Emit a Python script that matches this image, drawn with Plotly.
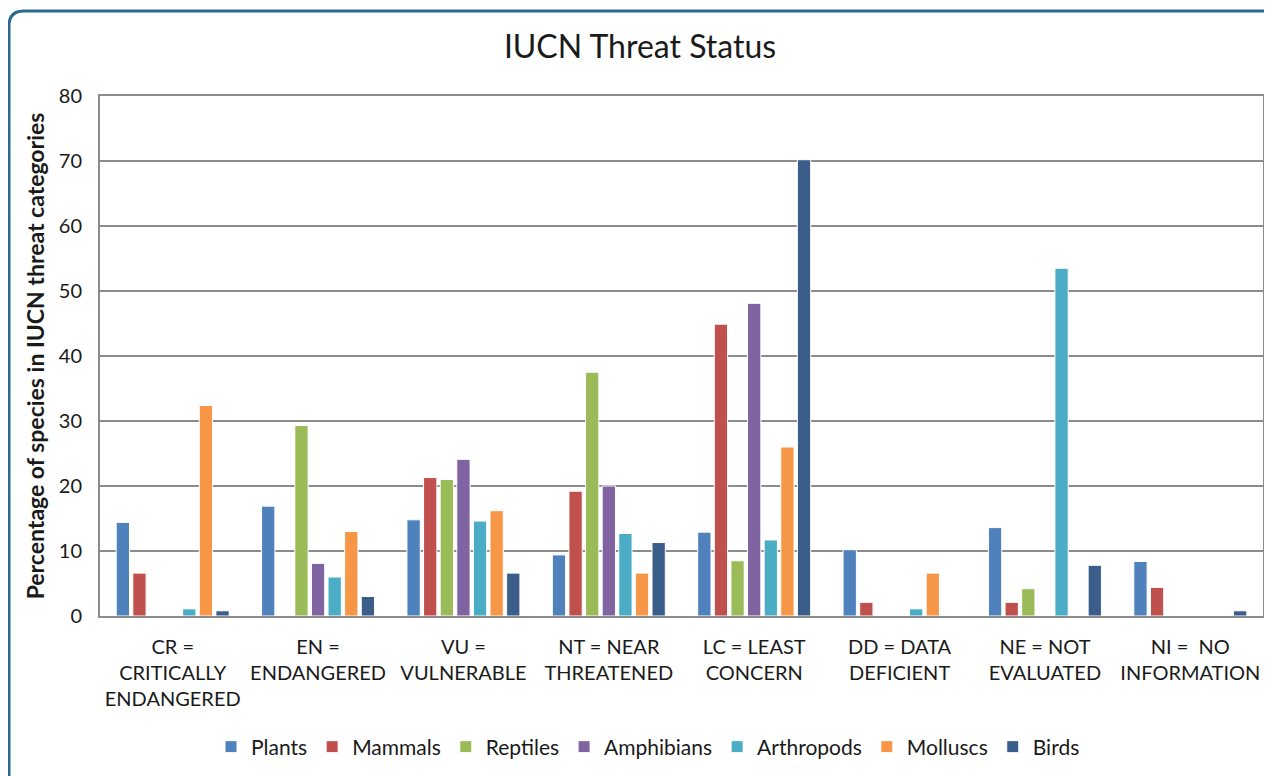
import plotly.graph_objects as go

categories = [
    "CR =<br>CRITICALLY<br>ENDANGERED",
    "EN =<br>ENDANGERED",
    "VU =<br>VULNERABLE",
    "NT = NEAR<br>THREATENED",
    "LC = LEAST<br>CONCERN",
    "DD = DATA<br>DEFICIENT",
    "NE = NOT<br>EVALUATED",
    "NI =  NO<br>INFORMATION",
]

plants = [14.4, 16.9, 14.8, 9.4, 12.9, 10.2, 13.6, 8.4]
mammals = [6.6, 0, 21.3, 19.2, 44.9, 2.1, 2.1, 4.4]
reptiles = [0, 29.3, 21.0, 37.5, 8.5, 0, 4.2, 0]
amphibians = [0, 8.1, 24.1, 20.0, 48.1, 0, 0, 0]
arthropods = [1.1, 6.0, 14.6, 12.7, 11.7, 1.1, 53.5, 0]
molluscs = [32.4, 13.0, 16.2, 6.6, 26.0, 6.6, 0, 0]
birds = [0.8, 3.0, 6.6, 11.3, 70.2, 0, 7.8, 0.8]

series_names = ["Plants", "Mammals", "Reptiles", "Amphibians", "Arthropods", "Molluscs", "Birds"]
series_values = [plants, mammals, reptiles, amphibians, arthropods, molluscs, birds]
colors = ["#4F81BD", "#C0504D", "#9BBB59", "#8064A2", "#4BACC6", "#F79646", "#3A5D8A"]

y_ticks = [0, 10, 20, 30, 40, 50, 60, 70, 80]

FONT = "Lato, 'Open Sans', sans-serif"

fig = go.Figure()
for name, vals, col in zip(series_names, series_values, colors):
    fig.add_trace(go.Bar(
        name=name, x=categories, y=vals,
        marker=dict(color=col, line=dict(color="white", width=1)),
    ))

# page body has an 8px default margin, so the figure is 8px smaller and
# every pixel position is shifted by -8
W, H = 1264, 768
L, R, T, B = 92, 9, 88, 160
pw, ph = W - L - R, H - T - B


def px(x):
    return (x - L) / pw


def py(y):
    return (H - B - y) / ph


# rounded frame around the chart (top-left corner visible)
r = 15
fx, fy = 1, 3
path = (
    f"M {px(fx)} {py(H + 20)} L {px(fx)} {py(fy + r)} "
    f"Q {px(fx)} {py(fy)} {px(fx + r)} {py(fy)} L {px(W + 20)} {py(fy)}"
)

fig.update_layout(
    width=W, height=H,
    margin=dict(l=L, r=R, t=T, b=B),
    paper_bgcolor="white", plot_bgcolor="white",
    barmode="group", bargap=0.2, bargroupgap=0.2,
    font=dict(family=FONT, size=20, color="#1a1a1a"),
    title=dict(text="IUCN Threat Status", x=0.5, xanchor="center",
               y=1 - 39 / H, yanchor="middle",
               font=dict(family=FONT, size=32, color="#1a1a1a")),
    xaxis=dict(
        showgrid=False, showline=True, linecolor="#8c8c8c", linewidth=2,
        mirror=True, ticks="", tickfont=dict(size=20, family=FONT),
        tickangle=0, automargin=False, ticklabelstandoff=12,
    ),
    yaxis=dict(
        range=[0, 80], tickvals=y_ticks, showgrid=True, gridcolor="#8c8c8c",
        gridwidth=2, showline=True, linecolor="#8c8c8c", linewidth=2,
        mirror=True, ticks="", zeroline=False, ticklabelstandoff=12,
        tickfont=dict(size=20, family=FONT),
        title=dict(text="<b>Percentage of species in IUCN threat categories</b>",
                   font=dict(size=23, family=FONT), standoff=8),
        automargin=False,
    ),
    legend=dict(orientation="h", x=px(640), xanchor="center", y=py(739), yanchor="middle",
                font=dict(size=21, family=FONT), itemwidth=30, traceorder="normal"),
    shapes=[dict(type="path", xref="paper", yref="paper", path=path,
                 line=dict(color="#2A6A8F", width=3), layer="above")],
)

fig.write_html("out.html")
